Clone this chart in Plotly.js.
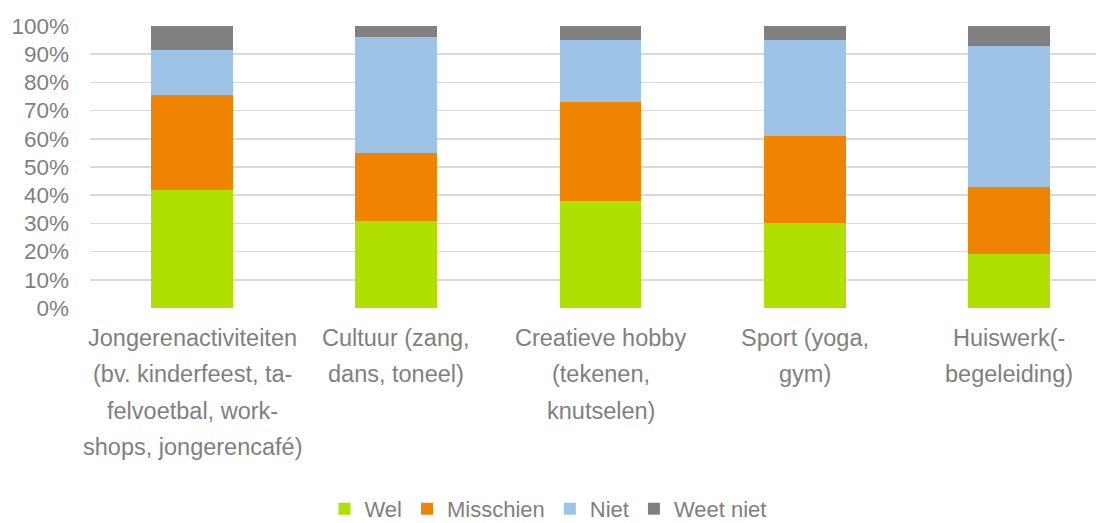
<!DOCTYPE html>
<html>
<head>
<meta charset="utf-8">
<script src="https://cdn.plot.ly/plotly-3.0.1.min.js"></script>
<style>html,body{margin:0;padding:0;background:#fff;}#chart{width:1096px;height:523px;}</style>
</head>
<body>
<div id="chart"></div>
<script>
const categories = ["Jongerenactiviteiten", "Cultuur", "Creatieve hobby", "Sport", "Huiswerk"];
const categoryLabelLines = [
  ["Jongerenactiviteiten", "(bv. kinderfeest, ta-", "felvoetbal, work-", "shops, jongerencafé)"],
  ["Cultuur (zang,", "dans, toneel)"],
  ["Creatieve hobby", "(tekenen,", "knutselen)"],
  ["Sport (yoga,", "gym)"],
  ["Huiswerk(-", "begeleiding)"]
];
const wel = [42, 31, 38, 30, 19];
const misschien = [33.5, 24, 35, 31, 24];
const niet = [16, 41, 22, 34, 50];
const weetNiet = [8.5, 4, 5, 5, 7];
const seriesNames = ["Wel", "Misschien", "Niet", "Weet niet"];
const yTickValues = [0, 10, 20, 30, 40, 50, 60, 70, 80, 90, 100];

const colors = ["#b0e000", "#f08300", "#9dc3e6", "#808080"];
const seriesValues = [wel, misschien, niet, weetNiet];
const idx = categories.map((c, i) => i);

const traces = seriesValues.map((vals, s) => ({
  type: "bar",
  name: seriesNames[s],
  x: idx,
  y: vals,
  width: 0.4,
  marker: {color: colors[s], line: {width: 0}},
  hoverinfo: "name+y"
}));

const annotations = [];
categoryLabelLines.forEach((lines, i) => {
  lines.forEach((line, j) => {
    annotations.push({
      x: i, xref: "x",
      y: 0, yref: "y",
      yanchor: "middle", xanchor: "center",
      yshift: -(30 + j * 36.4),
      text: line,
      showarrow: false,
      font: {family: "Liberation Sans, Arial, sans-serif", size: 23.5, color: "#7f7f7f"}
    });
  });
});

const layout = {
  width: 1096, height: 523,
  margin: {l: 90, r: 0, t: 26, b: 215},
  paper_bgcolor: "#ffffff",
  plot_bgcolor: "#ffffff",
  barmode: "stack",
  barnorm: "percent",
  font: {family: "Liberation Sans, Arial, sans-serif", size: 22, color: "#7f7f7f"},
  xaxis: {
    range: [-0.5, 4.426],
    showticklabels: false,
    showgrid: false,
    zeroline: false,
    showline: false,
    ticks: "",
    fixedrange: true
  },
  yaxis: {
    range: [0, 100],
    tickvals: yTickValues,
    ticktext: yTickValues.map(v => v + "%"),
    showgrid: true,
    gridcolor: "#d9d9d9",
    gridwidth: 1.5,
    zeroline: false,
    showline: false,
    ticks: "",
    ticklabelstandoff: 20,
    tickfont: {size: 22.5, color: "#7f7f7f"},
    fixedrange: true
  },
  showlegend: true,
  legend: {
    orientation: "h",
    xref: "container", yref: "container",
    x: 0.5, xanchor: "center",
    y: 0.027, yanchor: "middle",
    font: {size: 22, color: "#7f7f7f"},
    traceorder: "normal",
    itemwidth: 30
  },
  annotations: annotations
};

Plotly.newPlot("chart", traces, layout, {displayModeBar: false, staticPlot: true});
</script>
</body>
</html>
